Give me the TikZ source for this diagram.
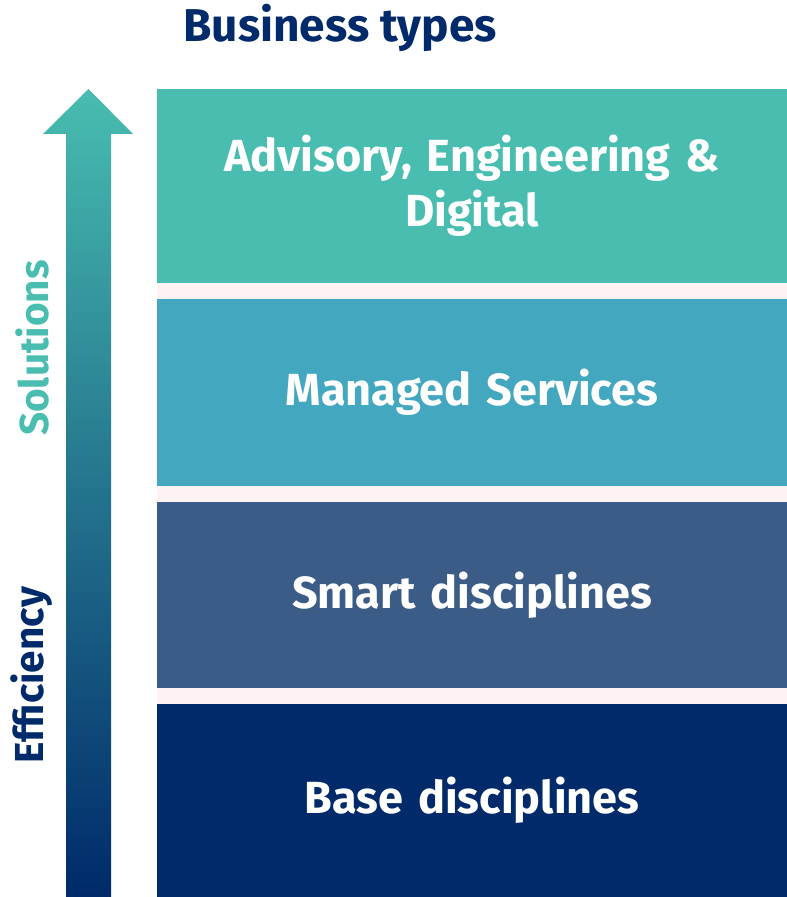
\documentclass[tikz,border=0pt]{standalone}
\usepackage{fontspec}
\setmainfont{Fira Sans}
\usetikzlibrary{positioning}
\definecolor{tealA}{HTML}{48BDB0}
\definecolor{tealB}{HTML}{42A7BF}
\definecolor{slateC}{HTML}{3A5C87}
\definecolor{navyD}{HTML}{002A6A}
\definecolor{gapfill}{HTML}{FDF3F2}
\definecolor{midarrow}{HTML}{358D92}
\tikzset{
    layer/.style = {rectangle, inner sep=0pt, minimum width=630pt, text width=610pt, align=center, text=white, font=\bfseries\fontsize{45}{55}\selectfont},
    heading/.style = {inner sep=0pt, text=navyD, font=\bfseries\fontsize{46}{52}\selectfont},
    sidelabel/.style = {inner sep=0pt, rotate=90, font=\bfseries\fontsize{40.5}{46}\selectfont},
}

\begin{document}
\begin{tikzpicture}[x=1pt,y=1pt]
\useasboundingbox (0,0) rectangle (787,897);
% strips between the layers
\fill[gapfill] (157,0) rectangle (787,808);
%
\node[layer, fill=tealA, minimum height=194pt] at (472,711) (adv) {Advisory, Engineering \&\\Digital};
\node[layer, fill=tealB, minimum height=187pt] at (472,504.5) (man) {Managed Services};
\node[layer, fill=slateC, minimum height=186pt] at (472,302) (smart) {Smart disciplines};
\node[layer, fill=navyD, minimum height=193pt] at (472,96.5) (base) {Base disciplines};
%
\node[heading] at (340,869) (title) {Business types};
%
\shade[top color=tealA, middle color=midarrow, bottom color=navyD]
    (66,0) -- (66,763) -- (43,763) -- (88.5,808) -- (133,763) -- (111,763) -- (111,0) -- cycle;
\node[sidelabel, text=tealA] at (32,549) (sol) {Solutions};
\node[sidelabel, text=navyD] at (32,222) (eff) {Efficiency};
\end{tikzpicture}
\end{document}
